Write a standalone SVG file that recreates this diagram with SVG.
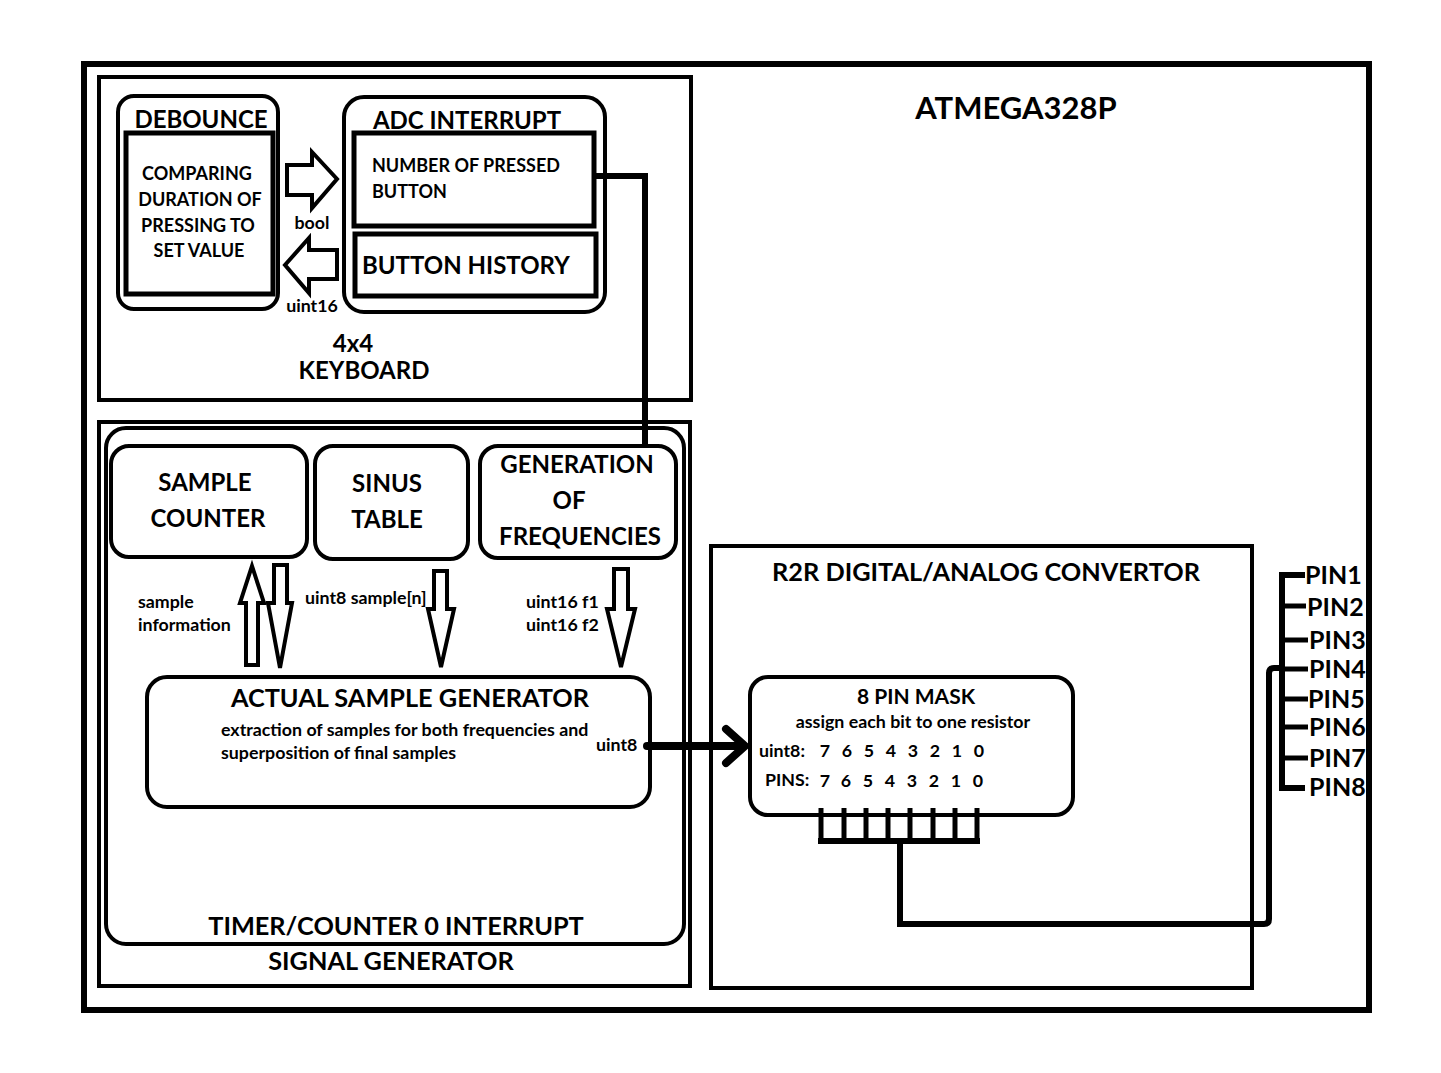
<svg xmlns="http://www.w3.org/2000/svg" width="1441" height="1073" viewBox="0 0 1441 1073">
<style>
text{font-family:Lato,"Open Sans","Liberation Sans",sans-serif;font-weight:bold;fill:#000}
.box{fill:none;stroke:#000;stroke-width:4}
.thick{fill:none;stroke:#000;stroke-width:6}
.inner{fill:none;stroke:#000;stroke-width:5}
.harrow{fill:#fff;stroke:#000;stroke-width:4;stroke-linejoin:miter}
.wire{fill:none;stroke:#000;stroke-width:6}
.t25{font-size:25.3px}
.t24{font-size:24px}
.t18{font-size:18px}
.t16{font-size:17.8px}
.t20{font-size:21px}
.t22{font-size:25px}
.c{text-anchor:middle}
</style>
<rect width="1441" height="1073" fill="#fff"/>
<g id="atmega">
<rect class="thick" x="84" y="64" width="1285" height="946" stroke-width="7"/>
<text class="c" x="1016" y="119" font-size="31">ATMEGA328P</text>
</g>
<g id="keyboard">
<rect class="box" x="99" y="77" width="592" height="323"/>
<text class="t24 c" x="353" y="352">4x4</text>
<text class="t24 c" x="364" y="379">KEYBOARD</text>
</g>
<g id="debounce">
<rect class="box" x="118" y="96" width="160" height="213" rx="16"/>
<text class="t24 c" x="201" y="128">DEBOUNCE</text>
<rect class="inner" x="126" y="133" width="147" height="161"/>
<text class="t18 c" x="197" y="180">COMPARING</text>
<text class="t18 c" x="200" y="206">DURATION OF</text>
<text class="t18 c" x="198" y="232">PRESSING TO</text>
<text class="t18 c" x="199" y="257">SET VALUE</text>
</g>
<g id="adc">
<rect class="box" x="344" y="97" width="261" height="215" rx="20"/>
<text class="t24 c" x="467" y="129">ADC INTERRUPT</text>
</g>
<g id="pressed">
<rect class="inner" x="354" y="133" width="240" height="93"/>
<text class="t18" x="372" y="172">NUMBER OF PRESSED</text>
<text class="t18" x="372" y="198">BUTTON</text>
</g>
<g id="history">
<rect class="inner" x="355" y="234" width="241" height="62"/>
<text class="t24" x="362" y="274" font-size="24.6">BUTTON HISTORY</text>
</g>
<g id="signalgen">
<rect class="box" x="99" y="422" width="591" height="564"/>
<text class="t25 c" x="391" y="970">SIGNAL GENERATOR</text>
</g>
<g id="timer">
<rect class="box" x="106" y="428" width="578" height="516" rx="20"/>
<text class="t25 c" x="396" y="935">TIMER/COUNTER 0 INTERRUPT</text>
</g>
<g id="samplecounter">
<rect class="box" x="111" y="446" width="196" height="111" rx="18"/>
<text class="t24 c" x="205" y="491">SAMPLE</text>
<text class="t24 c" x="208" y="527">COUNTER</text>
</g>
<g id="sinus">
<rect class="box" x="315" y="446" width="153" height="113" rx="18"/>
<text class="t24 c" x="387" y="492">SINUS</text>
<text class="t24 c" x="387" y="528">TABLE</text>
</g>
<g id="genfreq">
<rect class="box" x="480" y="446" width="196" height="112" rx="18"/>
<text class="t24 c" x="577" y="473">GENERATION</text>
<text class="t24 c" x="569" y="509">OF</text>
<text class="t24 c" x="580" y="545">FREQUENCIES</text>
</g>
<g id="actual">
<rect class="box" x="147" y="677" width="503" height="130" rx="20"/>
<text class="t25 c" x="410" y="707">ACTUAL SAMPLE GENERATOR</text>
<text class="t16" x="221" y="736">extraction of samples for both frequencies and</text>
<text class="t16" x="221" y="759">superposition of final samples</text>
<text class="t16" x="596" y="751">uint8</text>
</g>
<g id="r2r">
<rect class="box" x="711" y="546" width="541" height="442"/>
<text class="t25 c" x="986" y="581">R2R DIGITAL/ANALOG CONVERTOR</text>
</g>
<g id="pinmask">
<rect class="box" x="750" y="677" width="323" height="138" rx="18"/>
<text class="t20 c" x="916" y="704">8 PIN MASK</text>
<text class="t16 c" x="913" y="728">assign each bit to one resistor</text>
<text class="t16" x="759" y="757">uint8:</text>
<text class="t16" x="765" y="786">PINS:</text>
<g class="t16 c">
<text x="825" y="757">7</text><text x="847" y="757">6</text><text x="869" y="757">5</text><text x="891" y="757">4</text><text x="913" y="757">3</text><text x="935" y="757">2</text><text x="957" y="757">1</text><text x="979" y="757">0</text>
<text x="825" y="787">7</text><text x="846" y="787">6</text><text x="868" y="787">5</text><text x="890" y="787">4</text><text x="912" y="787">3</text><text x="934" y="787">2</text><text x="956" y="787">1</text><text x="978" y="787">0</text>
</g>
</g>
<g id="pins">
<g class="t22">
<text x="1305" y="584">PIN1</text>
<text x="1307" y="616">PIN2</text>
<text x="1309" y="649">PIN3</text>
<text x="1309" y="678">PIN4</text>
<text x="1308" y="708">PIN5</text>
<text x="1309" y="736">PIN6</text>
<text x="1309" y="767">PIN7</text>
<text x="1309" y="796">PIN8</text>
</g>
</g>
<g id="connectors">
<polygon class="harrow" points="287,165 312,165 312,152 337,179 312,208 312,195 287,195"/>
<text class="t16 c" x="312" y="229">bool</text>
<polygon class="harrow" points="337,250 309,250 309,238 285,265 309,293 309,279 337,279"/>
<text class="t16 c" x="312" y="312">uint16</text>
<polyline class="wire" points="594,176 645,176 645,448"/>
<polygon class="harrow" points="252,566 264,603 258,603 258,665 246,665 246,603 240,603"/>
<polygon class="harrow" points="274,565 287,565 287,603 292,603 280,668 268,603 274,603"/>
<text class="t16" x="138" y="608">sample</text>
<text class="t16" x="138" y="631">information</text>
<polygon class="harrow" points="434,571 447,571 447,609 454,609 441,667 428,609 434,609"/>
<text class="t16" x="305" y="604">uint8 sample[n]</text>
<polygon class="harrow" points="614,569 628,569 628,609 635,609 621,667 607,609 614,609"/>
<text class="t16" x="526" y="608">uint16 f1</text>
<text class="t16" x="526" y="631">uint16 f2</text>
<line x1="647" y1="746" x2="744" y2="746" stroke="#000" stroke-width="8"/>
<circle cx="647" cy="746" r="4"/>
<polyline points="726,729 745,746 726,763" fill="none" stroke="#000" stroke-width="8" stroke-linecap="round" stroke-linejoin="miter"/>
<g stroke="#000" stroke-width="5" fill="none">
<line x1="821" y1="808" x2="821" y2="842"/>
<line x1="844" y1="808" x2="844" y2="842"/>
<line x1="866" y1="808" x2="866" y2="842"/>
<line x1="888" y1="808" x2="888" y2="842"/>
<line x1="910" y1="808" x2="910" y2="842"/>
<line x1="933" y1="808" x2="933" y2="842"/>
<line x1="955" y1="808" x2="955" y2="842"/>
<line x1="977" y1="808" x2="977" y2="842"/>
</g>
<line x1="818" y1="841" x2="980" y2="841" stroke="#000" stroke-width="6"/>
<path d="M900,841 V924 H1264 Q1269,924 1269,919 V673 Q1269,668 1274,668 H1283" class="wire"/>
<polyline class="wire" points="1305,575 1282,575 1282,788 1305,788"/>
<g stroke="#000" stroke-width="5">
<line x1="1282" y1="606" x2="1306" y2="606"/>
<line x1="1282" y1="640" x2="1308" y2="640"/>
<line x1="1282" y1="669" x2="1308" y2="669"/>
<line x1="1282" y1="699" x2="1308" y2="699"/>
<line x1="1282" y1="727" x2="1308" y2="727"/>
<line x1="1282" y1="758" x2="1308" y2="758"/>
</g>
</g>
</svg>
